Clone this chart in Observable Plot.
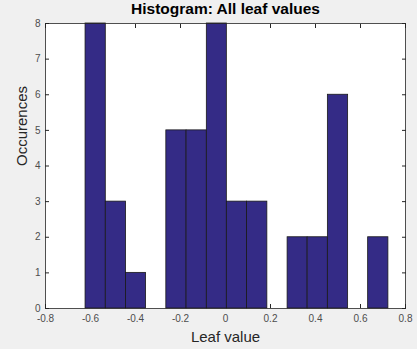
<!DOCTYPE html>
<html><head><meta charset="utf-8">
<script src="https://cdn.jsdelivr.net/npm/d3@7"></script>
<script src="https://cdn.jsdelivr.net/npm/@observablehq/plot@0.6"></script>
<style>
html,body{margin:0;padding:0;background:#f0f0f0;}
</style></head><body>
<div id="chart"></div>
<script>
const binEdges = [-0.622,-0.532,-0.442,-0.353,-0.263,-0.173,-0.083,0.006,0.096,0.186,0.276,0.365,0.455,0.545,0.634,0.724];
const counts = [8,3,1,0,5,5,8,3,3,0,2,2,6,0,2];
const xTicks = [-0.8,-0.6,-0.4,-0.2,0,0.2,0.4,0.6,0.8];
const yTicks = [0,1,2,3,4,5,6,7,8];
const title = "Histogram: All leaf values";
const xLabel = "Leaf value";
const yLabel = "Occurences";

const bins = counts.map((c,i)=>({x1:binEdges[i], x2:binEdges[i+1], count:c})).filter(d=>d.count>0);
const fmt = d => d === 0 ? "0" : String(d);
const font = "'Liberation Sans', Arial, Helvetica, sans-serif";
const tc = "#262626";

const chart = Plot.plot({
  width: 417, height: 349,
  marginLeft: 45, marginRight: 12, marginTop: 23, marginBottom: 41,
  style: {background: "#f0f0f0", fontFamily: font, fontSize: "10px", color: tc, overflow: "visible"},
  x: {domain: [-0.8, 0.8]},
  y: {domain: [0, 8]},
  marks: [
    Plot.frame({fill: "white", stroke: null}),
    Plot.axisX({ticks: xTicks, tickSize: -4, tickFormat: fmt, tickPadding: 10, label: null, stroke: tc, fill: "#4d4d4d", fontSize: 10}),
    Plot.axisX({ticks: xTicks, anchor: "top", tickSize: -4, tickFormat: () => "", label: null, stroke: tc}),
    Plot.axisY({ticks: yTicks, tickSize: -4, tickFormat: fmt, tickPadding: 9, label: null, stroke: tc, fill: "#4d4d4d", fontSize: 10}),
    Plot.axisY({ticks: yTicks, anchor: "right", tickSize: -4, tickFormat: () => "", label: null, stroke: tc}),
    Plot.rectY(bins, {x1: "x1", x2: "x2", y: "count", fill: "#342b86", stroke: "#1a1a1a", strokeWidth: 0.8}),
    Plot.frame({stroke: tc, strokeWidth: 0.8}),
    Plot.text([title], {frameAnchor: "top", lineAnchor: "middle", dy: -14, fontWeight: "bold", fontSize: 15.5, fill: "#000", text: d => d}),
    Plot.text([xLabel], {frameAnchor: "bottom", lineAnchor: "middle", dy: 29, fontSize: 15, fill: tc, text: d => d}),
    Plot.text([yLabel], {frameAnchor: "left", dx: -23, rotate: -90, fontSize: 15, fill: tc, text: d => d})
  ]
});
document.getElementById("chart").appendChild(chart);
</script>
</body></html>
